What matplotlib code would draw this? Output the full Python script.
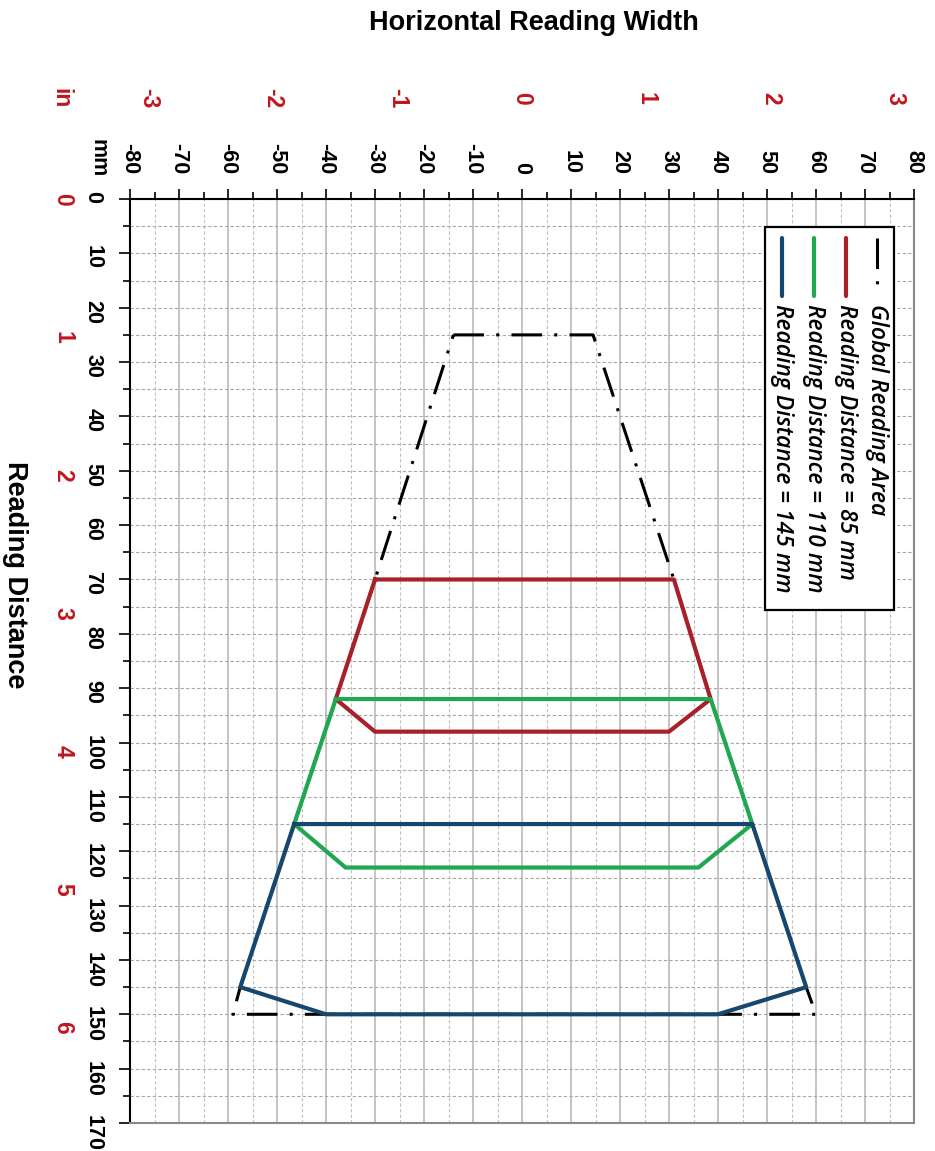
import matplotlib
matplotlib.use("Agg")
import matplotlib.pyplot as plt
import matplotlib.transforms as mtransforms
from matplotlib.patches import Rectangle
import numpy as np

plt.rcParams['font.family'] = ['Liberation Sans', 'DejaVu Sans']
plt.rcParams['axes.unicode_minus'] = False

# reading areas (x = width mm, y = distance mm)
global_x = [-14, 14.5, 31, 38.5, 47, 58, 60, -59, -57.5, -46.5, -38, -30, -14]
global_y = [25, 25, 70, 92, 115, 145, 150, 150, 145, 115, 92, 70, 25]
d85_x = [-30, 31, 38.5, 30, -30, -38, -30]
d85_y = [70, 70, 92, 98, 98, 92, 70]
d110_x = [-38, 38.5, 47, 36, -36, -46.5, -38]
d110_y = [92, 92, 115, 123, 123, 115, 92]
d145_x = [-46.5, 47, 58, 40, -40, -57.5, -46.5]
d145_y = [115, 115, 145, 150, 150, 145, 115]

labels = ['Global Reading Area', 'Reading Distance = 85 mm',
          'Reading Distance = 110 mm', 'Reading Distance = 145 mm']
colors = ['black', '#A8202A', '#1FA850', '#16476F']

mm_ticks = np.arange(-80, 81, 10)
dist_ticks = np.arange(0, 171, 10)
in_width = [-3, -2, -1, 0, 1, 2, 3]
in_dist = [0, 1, 2, 3, 4, 5, 6]

red = '#C0161E'
W, H = 935, 1151
fig = plt.figure(figsize=(W / 100, H / 100), dpi=100)
L, R, T, B = 130, 914, 199, 1123
ax = fig.add_axes([L / W, 1 - B / H, (R - L) / W, (B - T) / H])

def pax(px, py):
    return (px - L) / (R - L), 1 - (py - T) / (B - T)

ax.set_xlim(-80, 80)
ax.set_ylim(170, 0)
ax.xaxis.tick_top()
ax.set_xticks(mm_ticks)
ax.set_xticks(np.arange(-75, 80, 10), minor=True)
ax.set_yticks(dist_ticks)
ax.set_yticks(np.arange(5, 170, 10), minor=True)
ax.tick_params(axis='x', which='major', labelrotation=-90, labelsize=15.5, pad=11, length=7, width=1.2)
ax.tick_params(axis='y', which='major', labelrotation=-90, labelsize=15.5, pad=11, length=8, width=1.2)
ax.tick_params(which='minor', length=5, width=1.2)
ax.tick_params(axis='x', which='minor', top=True, bottom=False)
for lab in ax.get_xticklabels() + ax.get_yticklabels():
    lab.set_fontweight('bold')

# grid
ax.grid(which='major', axis='x', color='#b4b4b4', lw=1.1, ls='-')
ax.grid(which='minor', axis='x', color='#c0c0c0', lw=0.8, ls=(0, (3, 2)))
ax.grid(which='both', axis='y', color='#a8a8a8', lw=0.8, ls=(0, (3, 2)))
ax.set_axisbelow(True)

for s in ['left', 'top']:
    ax.spines[s].set_color('black')
    ax.spines[s].set_linewidth(1.5)
for s in ['right', 'bottom']:
    ax.spines[s].set_color('#8a8a8a')
    ax.spines[s].set_linewidth(1.5)

# areas
ax.plot(global_x, global_y, color=colors[0], lw=2.2, ls=(0, (10, 4, 1, 4)), zorder=2)
ax.plot(d85_x, d85_y, color=colors[1], lw=3, zorder=3)
ax.plot(d110_x, d110_y, color=colors[2], lw=3, zorder=4)
ax.plot(d145_x, d145_y, color=colors[3], lw=3, zorder=5)

# inch labels
tr_top = mtransforms.blended_transform_factory(ax.transData, ax.transAxes)
tr_left = mtransforms.blended_transform_factory(ax.transAxes, ax.transData)
for v in in_width:
    ax.text(v * 25.4, pax(0, 98)[1], str(v), transform=tr_top, color=red,
            fontsize=16.5, fontweight='bold', rotation=-90, ha='center', va='center', clip_on=False)
for v in in_dist:
    ax.text(pax(63, 0)[0], v * 25.4, str(v), transform=tr_left, color=red,
            fontsize=16.5, fontweight='bold', rotation=-90, ha='center', va='center', clip_on=False)
x, y = pax(61, 98)
ax.text(x, y, 'in', transform=ax.transAxes, color=red, fontsize=16.5, fontweight='bold',
        rotation=-90, ha='center', va='center')
x, y = pax(98, 177)
ax.text(x, y, 'mm', transform=ax.transAxes, color='black', fontsize=15.5, fontweight='bold',
        rotation=-90, ha='center', va='bottom')

# titles
fig.text(534 / W, 1 - 23 / H, 'Horizontal Reading Width', fontsize=19.5, fontweight='bold',
         ha='center', va='center')
fig.text(15 / W, 1 - 575 / H, 'Reading Distance', fontsize=19.5, fontweight='bold',
         rotation=-90, ha='center', va='center')

# rotated legend
x0, y1 = pax(765, 227)
x1, y0 = pax(894, 610)
ax.add_patch(Rectangle((x0, y0), x1 - x0, y1 - y0, transform=ax.transAxes,
                       facecolor='white', edgecolor='black', lw=1.6, zorder=10))
leg_x = [877, 846, 814, 782]
styles = [(0, (10, 4, 1, 4)), '-', '-', '-']
for px, lab, c, st in zip(leg_x, labels, colors, styles):
    xa, ya = pax(px, 238)
    _, yb = pax(px, 296)
    ax.plot([xa, xa], [ya, yb], transform=ax.transAxes, color=c, lw=3 if st == '-' else 2.2,
            ls=st, solid_capstyle='round', zorder=11, clip_on=False)
    _, yt = pax(px - 1, 304)
    ax.text(xa, yt, lab, transform=ax.transAxes, rotation=-90, ha='center', va='top',
            fontsize=16.5, style='italic', fontweight='semibold',
            family=['Open Sans', 'DejaVu Sans'], zorder=12)

fig.savefig('out.png', dpi=100)
